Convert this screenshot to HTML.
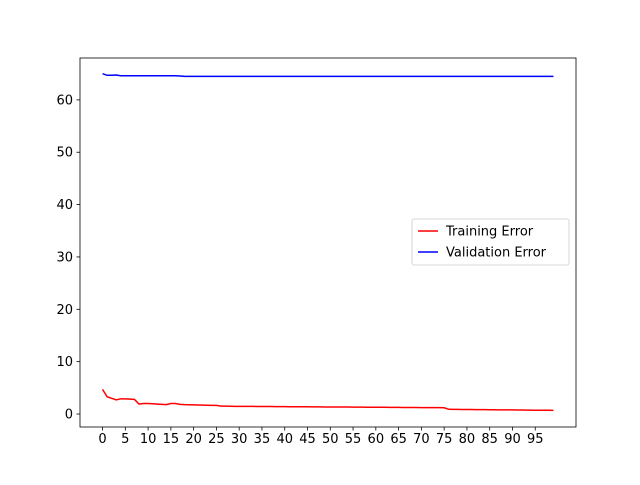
<!DOCTYPE html>
<html><head><meta charset="utf-8"><style>
body{margin:0;background:#fff;font-family:"Liberation Sans","DejaVu Sans",sans-serif}
svg text{font-family:"DejaVu Sans","Liberation Sans",sans-serif;font-size:10px;fill:#000}
</style></head><body>
<svg id="chart" width="640" height="480">
<rect x="0" y="0" width="640" height="480" fill="#fff"/>
<g id="marks"></g>
<rect x="80" y="58" width="496" height="369" fill="none" stroke="#000" stroke-width="0.8"/>
<g id="axes"></g>
<g>
<rect x="412" y="219" width="157" height="46" rx="2" fill="#fff" stroke="#ccc" stroke-width="0.8"/>
<line x1="418" y1="231" x2="438" y2="231" stroke="red" stroke-width="1.5"/>
<text x="446" y="235.5" style="font-size:13px">Training Error</text>
<line x1="418" y1="252" x2="438" y2="252" stroke="blue" stroke-width="1.5"/>
<text x="446" y="256.5" style="font-size:13px">Validation Error</text>
</g>
</svg>
<script>
const xTicks=[0,5,10,15,20,25,30,35,40,45,50,55,60,65,70,75,80,85,90,95];
const yTicks=[0,10,20,30,40,50,60];
const trainHead=[4.7,3.3,3.0,2.7,2.9,2.9,2.85,2.8,1.9,2.0,2.0,1.95,1.9,1.85,1.8,2.0,2.0,1.85,1.8,1.78,1.75,1.72,1.7,1.68,1.66,1.64,1.5,1.5];
const trainMidStart=1.48, trainMidEnd=1.2;
const valHead=[65.0,64.7,64.7,64.75,64.6,64.6,64.6,64.6,64.6,64.6,64.6,64.6,64.6,64.6,64.6,64.6,64.6,64.55];
const valTail=64.5;
const N=100;
const train=[],val=[];
for(let i=0;i<N;i++){
  if(i<trainHead.length)train.push(trainHead[i]);
  else if(i<76)train.push(+(trainMidStart-(trainMidStart-trainMidEnd)*(i-28)/47).toFixed(2));
  else train.push(+(0.9-0.2*(i-76)/23).toFixed(2));
  val.push(i<valHead.length?valHead[i]:valTail);
}
const X0=80,X1=576,Y0=427,Y1=58;
const xmin=-4.95,xmax=103.95,ymin=-2.48,ymax=68.0;
const sx=v=>X0+(v-xmin)/(xmax-xmin)*(X1-X0);
const sy=v=>Y0-(v-ymin)/(ymax-ymin)*(Y0-Y1);
const NS="http://www.w3.org/2000/svg";
const marks=document.getElementById('marks'),axes=document.getElementById('axes');
function line(arr,color,name){
  const p=document.createElementNS(NS,'polyline');
  p.setAttribute('points',arr.map((v,i)=>sx(i).toFixed(2)+','+sy(v).toFixed(2)).join(' '));
  p.setAttribute('fill','none');p.setAttribute('stroke',color);p.setAttribute('stroke-width','1.5');
  
  
  marks.appendChild(p);
}
line(train,'red','training-error-line');
line(val,'blue','validation-error-line');
xTicks.forEach(t=>{
  const x=sx(t);
  const l=document.createElementNS(NS,'line');
  l.setAttribute('x1',x);l.setAttribute('x2',x);l.setAttribute('y1',Y0);l.setAttribute('y2',Y0+3.5);l.setAttribute('stroke','#000');l.setAttribute('stroke-width','0.8');
  
  
  axes.appendChild(l);
  const tx=document.createElementNS(NS,'text');
  tx.setAttribute('x',x);tx.setAttribute('y',Y0+16);tx.setAttribute('text-anchor','middle');tx.textContent=t;
  tx.setAttribute('style','font-size:13px');
  
  
  axes.appendChild(tx);
});
yTicks.forEach(t=>{
  const y=sy(t);
  const l=document.createElementNS(NS,'line');
  l.setAttribute('x1',X0-3.5);l.setAttribute('x2',X0);l.setAttribute('y1',y);l.setAttribute('y2',y);l.setAttribute('stroke','#000');l.setAttribute('stroke-width','0.8');
  
  
  axes.appendChild(l);
  const tx=document.createElementNS(NS,'text');
  tx.setAttribute('x',X0-7);tx.setAttribute('y',y+4.5);tx.setAttribute('text-anchor','end');tx.textContent=t;
  tx.setAttribute('style','font-size:13px');
  
  
  axes.appendChild(tx);
});
</script>
</body></html>
